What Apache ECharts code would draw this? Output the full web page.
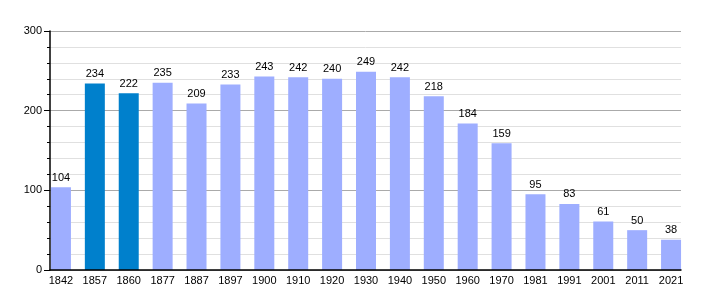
<!DOCTYPE html>
<html><head><meta charset="utf-8">
<script src="https://cdn.jsdelivr.net/npm/echarts@6/dist/echarts.min.js"></script>
<style>html,body{margin:0;padding:0;background:#fff}#c{width:710px;height:300px}</style>
</head><body><div id="c"></div>
<script>
const years = ['1842','1857','1860','1877','1887','1897','1900','1910','1920','1930','1940','1950','1960','1970','1981','1991','2001','2011','2021'];
const population = [104,234,222,235,209,233,243,242,240,249,242,218,184,159,95,83,61,50,38];
const highlighted = ['1857','1860'];
const yTicks = [0,100,200,300];

const chart = echarts.init(document.getElementById('c'));
const font = 'Liberation Sans, Arial, sans-serif';
chart.setOption({
  animation: false,
  grid: [
    {left: 50, right: 29, top: 31, bottom: 30},
    {left: 44, right: 22, top: 31, bottom: 30}
  ],
  xAxis: [
    {gridIndex: 0, type: 'value', min: 0, max: 1, z: 20, axisLine: {show: true, onZero: false, lineStyle: {color: '#000', width: 1.5}},
     axisTick: {show: false}, axisLabel: {show: false}, splitLine: {show: false}},
    {gridIndex: 1, type: 'category', data: years, axisLine: {show: false}, axisTick: {show: false},
     axisLabel: {color: '#000', fontSize: 11, fontFamily: font, margin: 5, interval: 0}}
  ],
  yAxis: [
    {gridIndex: 0, type: 'value', min: yTicks[0], max: yTicks[yTicks.length-1], interval: 100,
     axisLine: {show: true, lineStyle: {color: '#000', width: 1.5}},
     axisTick: {show: true, length: 6, lineStyle: {color: '#000'}},
     minorTick: {show: true, splitNumber: 5, length: 3, lineStyle: {color: '#000'}},
     axisLabel: {color: '#000', fontSize: 11, fontFamily: font, margin: 8},
     splitLine: {show: true, lineStyle: {color: '#aaaaaa', width: 1}},
     minorSplitLine: {show: true, lineStyle: {color: '#e0e0e0', width: 1}}},
    {gridIndex: 1, type: 'value', min: 0, max: 300, show: false, splitLine: {show: false}}
  ],
  series: [{
    type: 'bar', xAxisIndex: 1, yAxisIndex: 1, barWidth: 20, z: 2,
    data: population.map((v, i) => ({value: v, itemStyle: {color: highlighted.includes(years[i]) ? '#0080cc' : '#9eaeff'}})),
    label: {show: true, position: 'top', distance: 4, color: '#000', fontSize: 11, fontFamily: font}
  }]
});
</script></body></html>
